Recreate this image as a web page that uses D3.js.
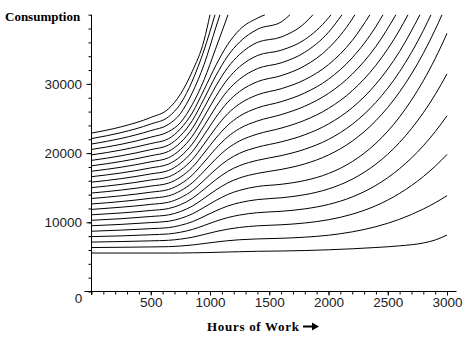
<!DOCTYPE html>
<html>
<head>
<meta charset="utf-8">
<script src="https://cdn.jsdelivr.net/npm/d3@7"></script>
<style>
  html, body { margin: 0; padding: 0; background: #fff; }
  svg { display: block; }
  .tick-label { font-family: "Liberation Sans", Arial, sans-serif; font-size: 13.5px; fill: #222; }
  .title { font-family: "Liberation Serif", "Times New Roman", serif; font-weight: bold; font-size: 13px; fill: #000; }
</style>
</head>
<body>
<svg id="chart" width="474" height="340"></svg>
<script>
// Hours of work at which each indifference curve is sampled
const hoursGrid = [0, 250, 500, 650, 750, 850, 950, 1050, 1150, 1250, 1400,
                   1600, 1800, 2000, 2200, 2400, 2600, 2800, 2900, 3000];

// Consumption along each indifference curve (lowest utility first)
const level0  = [5560, 5560, 5560, 5560, 5560, 5590, 5620, 5660, 5710, 5750, 5810, 5850, 5920, 6030, 6170, 6360, 6600, 7010, 7440, 8160];
const level1  = [6350, 6390, 6440, 6480, 6570, 6720, 6930, 7150, 7340, 7480, 7600, 7690, 7850, 8130, 8620, 9370, 10440, 11920, 12820, 13850];
const level2  = [7140, 7220, 7320, 7400, 7570, 7840, 8240, 8660, 9010, 9260, 9490, 9640, 9900, 10370, 11170, 12400, 14180, 16610, 18100, 19800];
const level3  = [7930, 8040, 8200, 8320, 8560, 8960, 9540, 10160, 10680, 11050, 11390, 11590, 11940, 12580, 13660, 15340, 17760, 21060, 23090, 25400];
const level4  = [8710, 8870, 9080, 9230, 9560, 10080, 10850, 11660, 12350, 12840, 13280, 13540, 13990, 14820, 16230, 18410, 21540, 25830, 28450, 31450];
const level5  = [9500, 9700, 9960, 10150, 10550, 11210, 12160, 13160, 14020, 14620, 15170, 15490, 16040, 17050, 18770, 21420, 25230, 30450, 33650, 37300];
const level6  = [10290, 10520, 10840, 11070, 11550, 12330, 13470, 14670, 15690, 16410, 17070, 17640, 18440, 19730, 21730, 24690, 28840, 34420, 37830];
const level7  = [11080, 11350, 11710, 11990, 12540, 13450, 14780, 16170, 17360, 18190, 18960, 19630, 20560, 21980, 24160, 27340, 31770, 37710];
const level8  = [11860, 12180, 12590, 12900, 13540, 14570, 16080, 17670, 19020, 19980, 20850, 21620, 22650, 24210, 26560, 29970, 34690];
const level9  = [12650, 13000, 13470, 13820, 14540, 15700, 17390, 19180, 20690, 21760, 22750, 23610, 24750, 26460, 29010, 32700, 37800];
const level10 = [13440, 13830, 14350, 14740, 15530, 16820, 18700, 20680, 22360, 23550, 24640, 25560, 26780, 28630, 31410, 35420];
const level11 = [14230, 14660, 15230, 15660, 16530, 17940, 20010, 22180, 24030, 25340, 26530, 27430, 28690, 30680, 33770, 38300];
const level12 = [15010, 15480, 16110, 16570, 17520, 19060, 21310, 23680, 25700, 27120, 28420, 29300, 30610, 32790, 36270];
const level13 = [15800, 16310, 16990, 17490, 18520, 20190, 22620, 25190, 27370, 28910, 30320, 31190, 32620, 35160, 39380];
const level14 = [16590, 17130, 17860, 18410, 19510, 21310, 23930, 26690, 29040, 30690, 32210, 33040, 34570, 37470];
const level15 = [17380, 17960, 18740, 19330, 20510, 22430, 25240, 28190, 30710, 32480, 34100, 34860, 36410, 39550];
const level16 = [18160, 18790, 19620, 20250, 21510, 23550, 26550, 29700, 32370, 34260, 36000, 36770, 38790];
const level17 = [18950, 19610, 20500, 21160, 22500, 24680, 27850, 31200, 34040, 36050, 37890, 38940];
const level18 = [19740, 20440, 21380, 22080, 23500, 25800, 29160, 32700, 35710, 37840, 39500];
const level19 = [20530, 21270, 22300, 23100, 24400, 27000, 30600, 35200];
const level20 = [21310, 22120, 23250, 24150, 25700, 28700, 32800, 38200];
const level21 = [22100, 22960, 24200, 25250, 27100, 30400, 34900];
const level22 = [22890, 23800, 25150, 26400, 28500, 31800, 36300];

const levels = [level0, level1, level2, level3, level4, level5, level6, level7, level8,
                level9, level10, level11, level12, level13, level14, level15, level16,
                level17, level18, level19, level20, level21, level22];

// Hours at which a curve leaves the top of the plot (null: runs to the right edge)
const exitHours = [null, null, null, null, null, null, 2958, 2865, 2772, 2671, 2569,
                   2460, 2350, 2223, 2114, 2021, 1869, 1675, 1464, 1152, 1084, 1042, 1000];

// Axis tick labels
const xTickLabels = [500, 1000, 1500, 2000, 2500, 3000];
const yTickLabels = [10000, 20000, 30000];

const svg = d3.select("#chart");
const x = d3.scaleLinear().domain([0, 3080]).range([91.5, 456.5]);
const y = d3.scaleLinear().domain([0, 40000]).range([291.5, 14.7]);
const yTop = 40000;

svg.append("rect").attr("width", 474).attr("height", 340).attr("fill", "#fff");

svg.append("clipPath").attr("id", "plot-clip")
  .append("rect")
  .attr("x", x(0)).attr("y", y(yTop) - 0.5)
  .attr("width", x(3080) - x(0)).attr("height", y(0) - y(yTop) + 1);

// Indifference curves
const line = d3.line()
  .x(d => x(d[0]))
  .y(d => y(d[1]))
  .curve(d3.curveMonotoneX);

const curves = levels.map((vals, k) => {
  const pts = vals.map((c, i) => [hoursGrid[i], c]);
  if (exitHours[k] !== null) pts.push([exitHours[k], yTop]);
  return pts;
});

svg.append("g")
  .attr("clip-path", "url(#plot-clip)")
  .selectAll("path")
  .data(curves)
  .join("path")
  .attr("d", line)
  .attr("fill", "none")
  .attr("stroke", "#000")
  .attr("stroke-width", 1);

// Y axis: minor ticks every 2000, labelled ticks every 10000
const yAxisMinor = d3.axisLeft(y)
  .tickValues(d3.range(0, yTop + 1, 2000))
  .tickSize(3).tickSizeOuter(0).tickFormat("");
const gy = svg.append("g").attr("transform", `translate(${x(0)},0)`).call(yAxisMinor);
gy.select(".domain").remove();

const yAxisMajor = d3.axisLeft(y)
  .tickValues(yTickLabels)
  .tickSize(5).tickSizeOuter(0).tickPadding(4.5)
  .tickFormat(d3.format("d"));
const gy2 = svg.append("g").attr("transform", `translate(${x(0)},0)`).call(yAxisMajor);
gy2.select(".domain").remove();
gy2.selectAll("text").attr("class", "tick-label").attr("fill", null);

// X axis: minor ticks every 100, labelled ticks every 500
const xAxisMinor = d3.axisBottom(x)
  .tickValues(d3.range(0, 3001, 100))
  .tickSize(3).tickSizeOuter(0).tickFormat("");
const gx = svg.append("g").attr("transform", `translate(0,${y(0)})`).call(xAxisMinor);
gx.select(".domain").remove();

const xAxisMajor = d3.axisBottom(x)
  .tickValues(xTickLabels)
  .tickSize(4).tickSizeOuter(0).tickPadding(1.5)
  .tickFormat(d3.format("d"));
const gx2 = svg.append("g").attr("transform", `translate(0,${y(0)})`).call(xAxisMajor);
gx2.select(".domain").remove();
gx2.selectAll("text").attr("class", "tick-label").attr("fill", null);

svg.selectAll(".tick line").attr("stroke", "#000");

// Axis lines crossing at the origin
svg.append("line")
  .attr("x1", x(0)).attr("x2", x(0))
  .attr("y1", y(yTop)).attr("y2", y(0) + 3.5)
  .attr("stroke", "#000");
svg.append("line")
  .attr("x1", x(0) - 7).attr("x2", x(3080))
  .attr("y1", y(0)).attr("y2", y(0))
  .attr("stroke", "#000");

// Origin label
svg.append("text")
  .attr("class", "tick-label")
  .attr("x", x(0) - 13).attr("y", y(0) + 11.5)
  .attr("text-anchor", "middle")
  .text("0");

// Axis titles
svg.append("text")
  .attr("class", "title")
  .attr("x", 5).attr("y", 20.5)
  .text("Consumption");

svg.append("text")
  .attr("class", "title")
  .attr("x", 207).attr("y", 331)
  .attr("textLength", 92).attr("lengthAdjust", "spacing")
  .text("Hours of Work");

// Bold arrow after the horizontal axis title
svg.append("line")
  .attr("x1", 303).attr("x2", 313)
  .attr("y1", 326.5).attr("y2", 326.5)
  .attr("stroke", "#000").attr("stroke-width", 2);
svg.append("path")
  .attr("d", "M312,322.5 L319,326.5 L312,330.5 Z")
  .attr("fill", "#000");
</script>
</body>
</html>
